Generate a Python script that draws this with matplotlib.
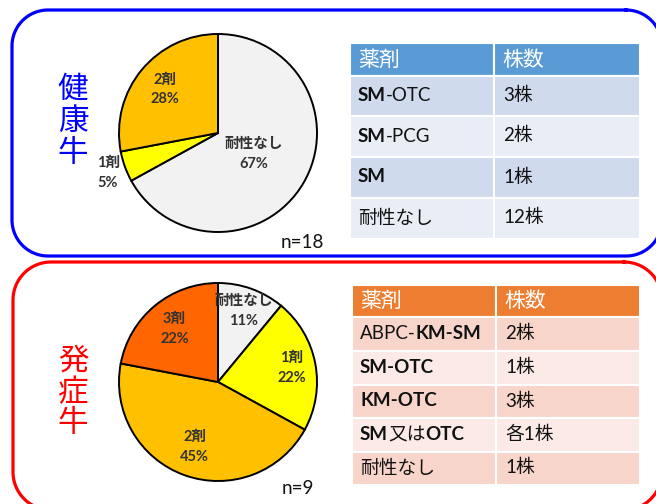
import matplotlib
matplotlib.use("Agg")
import matplotlib.pyplot as plt
from matplotlib.patches import Rectangle
import numpy as np

plt.rcParams["font.family"] = ["Lato", "Noto Sans CJK JP", "DejaVu Sans"]

# ---------------- data ----------------
healthy_title = "健康牛"
healthy_names = ["耐性なし", "1剤", "2剤"]
healthy_pct = [67, 5, 28]
healthy_n = "n=18"

sick_title = "発症牛"
sick_names = ["耐性なし", "1剤", "2剤", "3剤"]
sick_pct = [11, 22, 45, 22]
sick_n = "n=9"

table_header = ["薬剤", "株数"]
healthy_drugs = ["**SM**-OTC", "**SM**-PCG", "**SM**", "耐性なし"]
healthy_counts = ["3株", "2株", "1株", "12株"]
sick_drugs = ["ABPC-**KM-SM**", "**SM-OTC**", "**KM-OTC**", "**SM**又は**OTC**", "耐性なし"]
sick_counts = ["2株", "1株", "3株", "各1株", "1株"]

# ---------------- styles ----------------
COL = {"耐性なし": "#F2F2F2", "1剤": "#FFFF00", "2剤": "#FFC000", "3剤": "#FF6600"}

W, H = 656, 504
fig = plt.figure(figsize=(W / 100, H / 100), dpi=100)
ax = fig.add_axes([0, 0, 1, 1])
ax.set_xlim(0, W)
ax.set_ylim(H, 0)
ax.axis("off")
renderer = fig.canvas.get_renderer()


def rounded_frame(x0, y0, x1, y1, r, color):
    pts = []
    corners = [(x1 - r, y0 + r, -90, 0), (x1 - r, y1 - r, 0, 90),
               (x0 + r, y1 - r, 90, 180), (x0 + r, y0 + r, 180, 270)]
    for cx, cy, a0, a1 in corners:
        t = np.deg2rad(np.linspace(a0, a1, 30))
        pts.append(np.column_stack([cx + r * np.cos(t), cy + r * np.sin(t)]))
    pts = np.vstack(pts + [pts[0][:1]])
    ax.plot(pts[:, 0], pts[:, 1], color=color, linewidth=2.3, clip_on=False,
            solid_joinstyle="round")


rounded_frame(12, 10, 662, 256, 36, "#0000FF")
rounded_frame(13, 262, 662, 510, 38, "#FF0000")


def vertical_title(text, x, y0, step, color):
    for i, ch in enumerate(text):
        ax.text(x, y0 + i * step, ch, ha="center", va="center", fontsize=22,
                color=color, family=["Noto Sans CJK JP"])


vertical_title(healthy_title, 73, 90, 31.5, "#0000FF")
vertical_title(sick_title, 73, 361, 31.5, "#FF0000")


def draw_pie(cx, cy, r, names, pcts, dists):
    pax = fig.add_axes([(cx - r) / W, 1 - (cy + r) / H, 2 * r / W, 2 * r / H])
    wedges, _ = pax.pie(pcts, colors=[COL[n] for n in names], startangle=90,
                        counterclock=False, radius=1,
                        wedgeprops=dict(edgecolor="black", linewidth=1.4))
    pax.set_xlim(-1, 1)
    pax.set_ylim(-1, 1)
    for w, name, p, d in zip(wedges, names, pcts, dists):
        a = np.deg2rad((w.theta1 + w.theta2) / 2)
        pax.text(d * np.cos(a), d * np.sin(a), f"{name}\n{p}%", ha="center", va="center",
                 fontsize=10.5, fontweight="bold", color="#333333", linespacing=1.55,
                 clip_on=False)
    return pax


draw_pie(218, 133, 99, healthy_names, healthy_pct, [0.42, 1.18, 0.69])
draw_pie(218, 382, 99, sick_names, sick_pct, [0.76, 0.76, 0.70, 0.69])

ax.text(302, 243, healthy_n, ha="center", va="center", fontsize=13.5, color="#111111")
ax.text(298, 488, sick_n, ha="center", va="center", fontsize=13.5, color="#111111")


def rich_text(x, y, markup, fontsize, color):
    parts = markup.split("**")
    for i, part in enumerate(parts):
        if not part:
            continue
        t = ax.text(x, y, part, ha="left", va="baseline", fontsize=fontsize, color=color,
                    fontweight="bold" if i % 2 == 1 else "normal")
        x += t.get_window_extent(renderer=renderer).width


def draw_table(xe, ye, drugs, counts, head_col, bands):
    for c in range(2):
        ax.add_patch(Rectangle((xe[c], ye[0]), xe[c + 1] - xe[c], ye[1] - ye[0],
                               facecolor=head_col, edgecolor="white", linewidth=1.5))
        ax.text(xe[c] + 8, (ye[0] + ye[1]) / 2 + 6, table_header[c], ha="left",
                va="baseline", fontsize=15, color="white")
    for r, (dname, cnt) in enumerate(zip(drugs, counts)):
        y0, y1 = ye[r + 1], ye[r + 2]
        for c in range(2):
            ax.add_patch(Rectangle((xe[c], y0), xe[c + 1] - xe[c], y1 - y0,
                                   facecolor=bands[r % 2], edgecolor="white", linewidth=1.5))
        yb = (y0 + y1) / 2 + 5
        rich_text(xe[0] + 8, yb, dname, 13.5, "#111111")
        rich_text(xe[1] + 9, yb, cnt, 13.5, "#111111")


draw_table([350, 494, 640], [43, 76, 116, 157, 198, 239], healthy_drugs, healthy_counts,
           "#5B9BD5", ["#CFDAEC", "#E9EEF6"])
draw_table([352, 496, 640], [285, 317, 351, 385, 418, 452, 485], sick_drugs, sick_counts,
           "#ED7D31", ["#F8D5CA", "#FBEAE5"])

fig.savefig("out.png", dpi=100)
